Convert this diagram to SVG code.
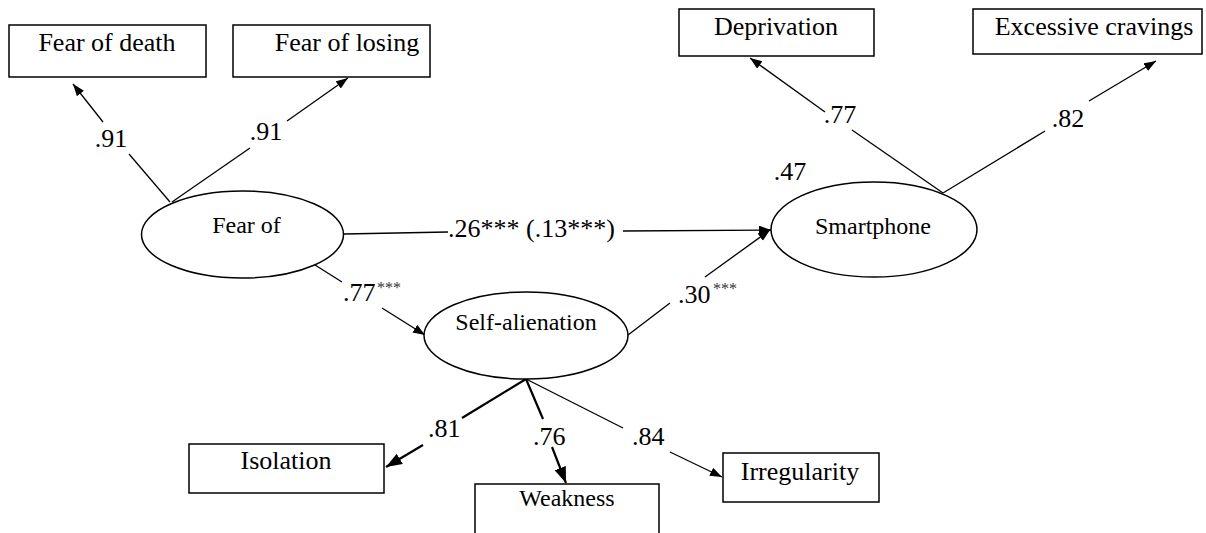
<svg xmlns="http://www.w3.org/2000/svg" width="1206" height="533" viewBox="0 0 1206 533" font-family="Liberation Serif, serif">
<style>
.box{fill:#fff;stroke:#000;stroke-width:1.5}
.ell{fill:#fff;stroke:#000;stroke-width:1.5}
.bl{font-size:26px;text-anchor:middle}
.el{font-size:24px;text-anchor:middle}
.num{font-size:26px}
.sup{font-size:16px}
.ln{stroke:#000;stroke-width:1.3;fill:none}
.thk{stroke:#000;stroke-width:2.2;fill:none}
.a{marker-end:url(#ah)}
.A{marker-end:url(#ahb)}
</style>
<defs>
<marker id="ah" markerUnits="userSpaceOnUse" markerWidth="13" markerHeight="10" refX="12" refY="4.5" orient="auto"><path d="M0,0 L12,4.5 L0,9 z" fill="#000"/></marker>
<marker id="ahb" markerUnits="userSpaceOnUse" markerWidth="17" markerHeight="13" refX="16" refY="6" orient="auto"><path d="M0,0 L16,6 L0,12 z" fill="#000"/></marker>
</defs>
<rect width="1206" height="533" fill="#fff"/>
<g id="connectors">
<line class="ln" x1="170" y1="202" x2="129" y2="154"/>
<line class="ln a" x1="103" y1="122" x2="73" y2="84"/>
<line class="ln" x1="172" y1="202" x2="250" y2="148"/>
<line class="ln a" x1="287" y1="121" x2="348" y2="78"/>
<line class="ln" x1="943" y1="193" x2="852" y2="130"/>
<line class="ln a" x1="825" y1="112" x2="750" y2="58"/>
<line class="ln" x1="943" y1="193" x2="1045" y2="131"/>
<line class="ln a" x1="1089" y1="101" x2="1156" y2="61"/>
<line class="ln" x1="344" y1="234" x2="448" y2="232"/>
<line class="ln a" x1="623" y1="231" x2="771" y2="230"/>
<line class="ln" x1="315" y1="265" x2="342" y2="282"/>
<line class="ln a" x1="382" y1="308" x2="425" y2="335"/>
<line class="ln" x1="628" y1="335" x2="670" y2="303"/>
<line class="ln a" x1="705" y1="277" x2="770" y2="230"/>
<line class="thk" x1="526" y1="379" x2="462" y2="418"/>
<line class="thk A" x1="423" y1="445" x2="386" y2="467"/>
<line class="thk" x1="526" y1="379" x2="543" y2="419"/>
<line class="thk A" x1="552" y1="447" x2="566" y2="483"/>
<line class="ln" x1="526" y1="379" x2="623" y2="428"/>
<line class="ln a" x1="670" y1="452" x2="722" y2="477"/>
<text class="num" x="111" y="147" text-anchor="middle">.91</text>
<text class="num" x="266" y="140" text-anchor="middle">.91</text>
<text class="num" x="840" y="123" text-anchor="middle">.77</text>
<text class="num" x="1068" y="127" text-anchor="middle">.82</text>
<text class="num" x="790" y="180" text-anchor="middle">.47</text>
<text class="num" x="448" y="237">.26*** (.13***)</text>
<text class="num" x="343" y="301">.77</text>
<text class="sup" x="377" y="293" fill="#333">***</text>
<text class="num" x="678" y="303">.30</text>
<text class="sup" x="713" y="294" fill="#333">***</text>
<text class="num" x="428" y="437">.81</text>
<text class="num" x="533" y="445">.76</text>
<text class="num" x="632" y="445">.84</text>
</g>
<g id="fear-of-death"><rect class="box" x="9" y="25" width="197" height="52"/><text class="bl" x="107" y="51">Fear of death</text></g>
<g id="fear-of-losing"><rect class="box" x="233" y="25" width="197" height="52"/><text class="bl" x="347" y="51">Fear of losing</text></g>
<g id="deprivation"><rect class="box" x="679" y="9" width="195" height="47"/><text class="bl" x="776" y="35">Deprivation</text></g>
<g id="excessive-cravings"><rect class="box" x="973" y="9" width="229" height="45"/><text class="bl" x="1094" y="35">Excessive cravings</text></g>
<g id="fear-of"><ellipse class="ell" cx="242.5" cy="234.5" rx="101" ry="43.5"/><text class="el" x="246.5" y="233">Fear of</text></g>
<g id="smartphone"><ellipse class="ell" cx="874" cy="229.5" rx="103" ry="47.5"/><text class="el" x="873" y="234">Smartphone</text></g>
<g id="self-alienation"><ellipse class="ell" cx="526" cy="335.5" rx="102" ry="43.5"/><text class="el" x="526" y="330">Self-alienation</text></g>
<g id="isolation"><rect class="box" x="189" y="444" width="195" height="49"/><text class="bl" x="286" y="469">Isolation</text></g>
<g id="weakness"><rect class="box" x="475" y="484" width="184" height="62"/><text class="el" x="567" y="506">Weakness</text></g>
<g id="irregularity"><rect class="box" x="723" y="453" width="156" height="49"/><text class="bl" x="800" y="480">Irregularity</text></g>
</svg>
